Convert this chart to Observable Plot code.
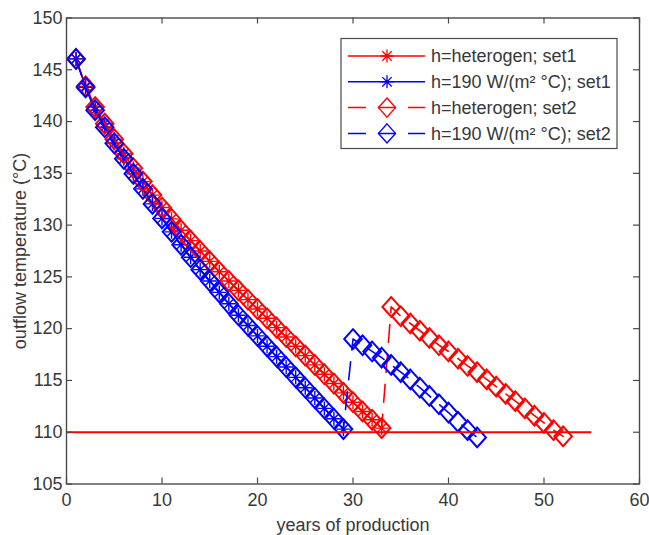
<!DOCTYPE html>
<html><head><meta charset="utf-8">
<script src="https://cdn.jsdelivr.net/npm/d3@7"></script>
<script src="https://cdn.jsdelivr.net/npm/@observablehq/plot@0.6"></script>
<style>
body{margin:0;background:#fff}
#chart{position:relative;width:649px;height:535px}
</style>
</head><body><div id="chart"></div>
<script>
// ---- data ----
const yearsRedSet1 = [1,2,3,4,5,6,7,8,9,10,11,12,13,14,15,16,17,18,19,20,21,22,23,24,25,26,27,28,29,30,31,32,33];
const redSet1 = [146.05,143.4,141.4,139.8,138.3,136.9,135.5,134.2,132.9,131.7,130.6,129.5,128.5,127.5,126.5,125.5,124.6,123.7,122.8,121.9,121.0,120.1,119.2,118.3,117.4,116.5,115.6,114.7,113.8,112.9,112.0,111.2,110.4];
const yearsBlueSet1 = [1,2,3,4,5,6,7,8,9,10,11,12,13,14,15,16,17,18,19,20,21,22,23,24,25,26,27,28,29];
const blueSet1 = [146.05,143.3,141.1,139.45,137.9,136.4,134.95,133.5,132.05,130.65,129.35,128.1,126.9,125.7,124.6,123.5,122.4,121.3,120.3,119.3,118.3,117.3,116.3,115.3,114.3,113.3,112.3,111.3,110.3];
// set2 follows set1 until the re-start, then continues with these values
const yearsRedSet2After = [34,35,36,37,38,39,40,41,42,43,44,45,46,47,48,49,50,51,52];
const redSet2After = [122.1,121.2,120.5,119.8,119.1,118.4,117.8,117.1,116.4,115.8,115.1,114.4,113.7,113.0,112.3,111.6,110.9,110.2,109.6];
const yearsBlueSet2After = [30,31,32,33,34,35,36,37,38,39,40,41,42,43];
const blueSet2After = [119.0,118.4,117.8,117.2,116.5,115.8,115.1,114.3,113.5,112.7,111.9,111.0,110.2,109.5];
const limitTemp = 110;
const limitFrom = 0;
const limitTo = 55;

const xTicks = [0,10,20,30,40,50,60];
const yTicks = [105,110,115,120,125,130,135,140,145,150];
const xDomain = [0,60];
const yDomain = [105,150];
const legendLabels = ["h=heterogen; set1","h=190 W/(m² °C); set1","h=heterogen; set2","h=190 W/(m² °C); set2"];
const xLabel = "years of production";
const yLabel = "outflow temperature (°C)";

// ---- build tables ----
const toRows = (xs, ys) => xs.map((x, i) => ({x, y: ys[i]}));
const red1 = toRows(yearsRedSet1, redSet1);
const blue1 = toRows(yearsBlueSet1, blueSet1);
const red2 = red1.concat(toRows(yearsRedSet2After, redSet2After));
const blue2 = blue1.concat(toRows(yearsBlueSet2After, blueSet2After));

const RED = "#ff0000", BLUE = "#0000ff", AX = "#4a4a4a", TXT = "#383838";
const FONT = "'Liberation Sans', Arial, sans-serif";
const FS = 18;
const W = 649, H = 535, mL = 66, mR = 10, mT = 17.5, mB = 51.5;
const innerW = W - mL - mR, innerH = H - mT - mB;
const tickLen = 6;
const DASH = "18,12";

// MATLAB-like marker shapes
const diamond = {draw(ctx, size) {
  const r = Math.sqrt(size / Math.PI), h = r * 1.12;
  ctx.moveTo(0, -h); ctx.lineTo(r, 0); ctx.lineTo(0, h); ctx.lineTo(-r, 0); ctx.closePath();
}};
const asterisk = {draw(ctx, size) {
  const r = Math.sqrt(size / Math.PI), d = r * 0.72;
  ctx.moveTo(0, -r); ctx.lineTo(0, r);
  ctx.moveTo(-r, 0); ctx.lineTo(r, 0);
  ctx.moveTo(-d, -d); ctx.lineTo(d, d);
  ctx.moveTo(-d, d); ctx.lineTo(d, -d);
}};

const series1 = (data, color) => [
  Plot.line(data, {x: "x", y: "y", stroke: color, strokeWidth: 1.5}),
  Plot.dot(data, {x: "x", y: "y", symbol: asterisk, r: 7, stroke: color, strokeWidth: 1.4, fill: "none"})
];
const series2 = (data, color) => [
  Plot.line(data, {x: "x", y: "y", stroke: color, strokeWidth: 1.6, strokeDasharray: DASH}),
  Plot.dot(data, {x: "x", y: "y", symbol: diamond, r: 8.8, stroke: color, strokeWidth: 2, fill: "none"})
];

const chart = Plot.plot({
  width: W, height: H,
  marginLeft: mL, marginRight: mR, marginTop: mT, marginBottom: mB,
  style: {fontFamily: FONT, fontSize: FS + "px", color: TXT, background: "#fff"},
  x: {domain: xDomain, ticks: xTicks},
  y: {domain: yDomain, ticks: yTicks},
  marks: [
    Plot.axisX({ticks: xTicks, tickSize: 0, tickPadding: 9, label: null, fontSize: FS}),
    Plot.axisY({ticks: yTicks, tickSize: 0, tickPadding: 4, label: null, fontSize: FS}),
    Plot.text([xLabel], {frameAnchor: "bottom", lineAnchor: "middle", textAnchor: "middle", dy: 41, fontSize: FS, fill: TXT}),
    Plot.text([yLabel], {frameAnchor: "left", lineAnchor: "middle", textAnchor: "middle", rotate: -90, dx: -46, fontSize: FS, fill: TXT}),
    ...series1(red1, RED),
    ...series1(blue1, BLUE),
    ...series2(red2, RED),
    ...series2(blue2, BLUE),
    Plot.ruleY([limitTemp], {x1: limitFrom, x2: limitTo, stroke: RED, strokeWidth: 2}),
    // inward ticks on all four sides
    Plot.ruleX(xTicks, {x: d => d, insetTop: innerH - tickLen, stroke: AX, strokeWidth: 1.2}),
    Plot.ruleX(xTicks, {x: d => d, insetBottom: innerH - tickLen, stroke: AX, strokeWidth: 1.2}),
    Plot.ruleY(yTicks, {y: d => d, insetRight: innerW - tickLen, stroke: AX, strokeWidth: 1.2}),
    Plot.ruleY(yTicks, {y: d => d, insetLeft: innerW - tickLen, stroke: AX, strokeWidth: 1.2}),
    Plot.frame({stroke: AX, strokeWidth: 1.4})
  ]
});
document.getElementById("chart").appendChild(chart);

// ---- legend (inside the axes, top right) ----
const svg = d3.select(chart);
const lg = svg.append("g").attr("font-family", FONT).attr("font-size", FS).attr("text-anchor", "start");
const box = {x: 341, y: 38.5, w: 276, h: 110};
lg.append("rect").attr("x", box.x).attr("y", box.y).attr("width", box.w).attr("height", box.h)
  .attr("fill", "#fff").attr("stroke", AX).attr("stroke-width", 1.2);
const entries = [
  {label: legendLabels[0], color: RED, sym: asterisk, r: 6.5, dash: null, sw: 1.3},
  {label: legendLabels[1], color: BLUE, sym: asterisk, r: 6.5, dash: null, sw: 1.3},
  {label: legendLabels[2], color: RED, sym: diamond, r: 8.5, dash: DASH, sw: 1.4},
  {label: legendLabels[3], color: BLUE, sym: diamond, r: 8.5, dash: DASH, sw: 1.4}
];
entries.forEach((e, i) => {
  const cy = 56 + i * 25.8;
  lg.append("line").attr("x1", 348).attr("x2", 425).attr("y1", cy).attr("y2", cy)
    .attr("stroke", e.color).attr("stroke-width", 1.5).attr("stroke-dasharray", e.dash);
  lg.append("path").attr("d", d3.symbol(e.sym, Math.PI * e.r * e.r)())
    .attr("transform", `translate(387,${cy})`).attr("fill", "none")
    .attr("stroke", e.color).attr("stroke-width", e.sw);
  lg.append("text").attr("x", 431).attr("y", cy).attr("dy", "0.35em").attr("text-anchor", "start")
    .attr("fill", TXT).text(e.label);
});
</script>
</body></html>
